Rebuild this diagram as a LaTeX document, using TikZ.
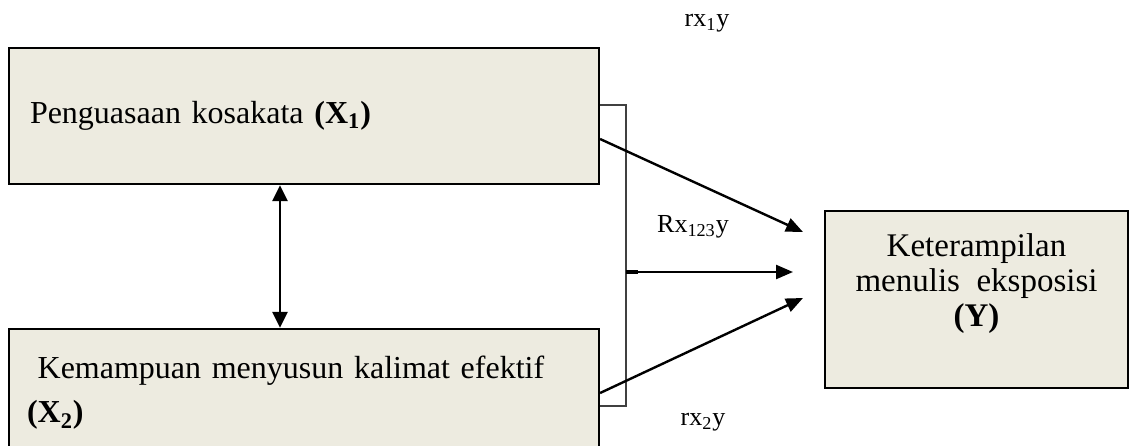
\documentclass[tikz,border=0pt]{standalone}
\usepackage{fontspec}
\setmainfont{Liberation Serif}
\usepackage{tikz}
\usetikzlibrary{arrows.meta, positioning, calc}
\definecolor{boxfill}{RGB}{237,235,224}

\begin{document}
\begin{tikzpicture}[x=0.5pt, y=-0.5pt,
        box style/.style={draw=black, fill=boxfill, line width=1.1pt, minimum width=295pt, inner ysep=0pt, font={\fontsize{16}{22}\selectfont}},
        arrow/.style={-{Triangle[length=8.5pt, width=7pt]}, line width=1.2pt, black},
        double arrow/.style={{Triangle[length=8pt, width=7.5pt]}-{Triangle[length=8pt, width=7.5pt]}, line width=1.4pt, black},
        bracket line/.style={draw=black!75, line width=0.8pt},
        label style/.style={font={\fontsize{13}{15}\selectfont}}
    ]
        \useasboundingbox (0,0) rectangle (1130,445);

        \node[box style, minimum height=68pt, inner xsep=10.5pt, text width=274pt, align=left] (kosakata) at (304,116) {Penguasaan kosakata \textbf{(X\textsubscript{1})}};
        \node[box style, minimum height=64pt, inner xsep=9pt, text width=277pt, align=left] (kalimat) at (304,393) {~Kemampuan menyusun kalimat efektif\\\textbf{(X\textsubscript{2})}};
        \node[box style, minimum width=151.5pt, minimum height=88.5pt] (menulis) at (976.5,299.5) {};
        \node[align=center, font={\fontsize{16.5}{17.5}\selectfont}] (menulis text) at ($(menulis.center)+(0,-16)$) {Keterampilan\\menulis~ eksposisi\\\textbf{(Y)}};

        % arrow ends in front of the Y box
        \coordinate (split) at (626,272);
        \coordinate (tip a) at (803,232);
        \coordinate (tip b) at (793,272);
        \coordinate (tip c) at (803,298);

        \draw[bracket line] ([yshift=5.5pt]kosakata.east) -| (split) |- ([yshift=-6.5pt]kalimat.east);
        \draw[line width=1.8pt] (split) -- ++(12,0);

        \draw[double arrow] ([xshift=-12pt]kosakata.south) -- ([xshift=-12pt]kalimat.north);
        \draw[arrow] ([yshift=-11.5pt]kosakata.east) -- (tip a);
        \draw[arrow] (split) -- (tip b);
        \draw[arrow] (kalimat.east) -- (tip c);

        \node[label style] (r1) at (707,23) {rx\textsubscript{1}y};
        \node[label style] (r123) at (693,227) {Rx\textsubscript{123}y};
        \node[label style] (r2) at (703,422) {rx\textsubscript{2}y};
    \end{tikzpicture}
\end{document}
